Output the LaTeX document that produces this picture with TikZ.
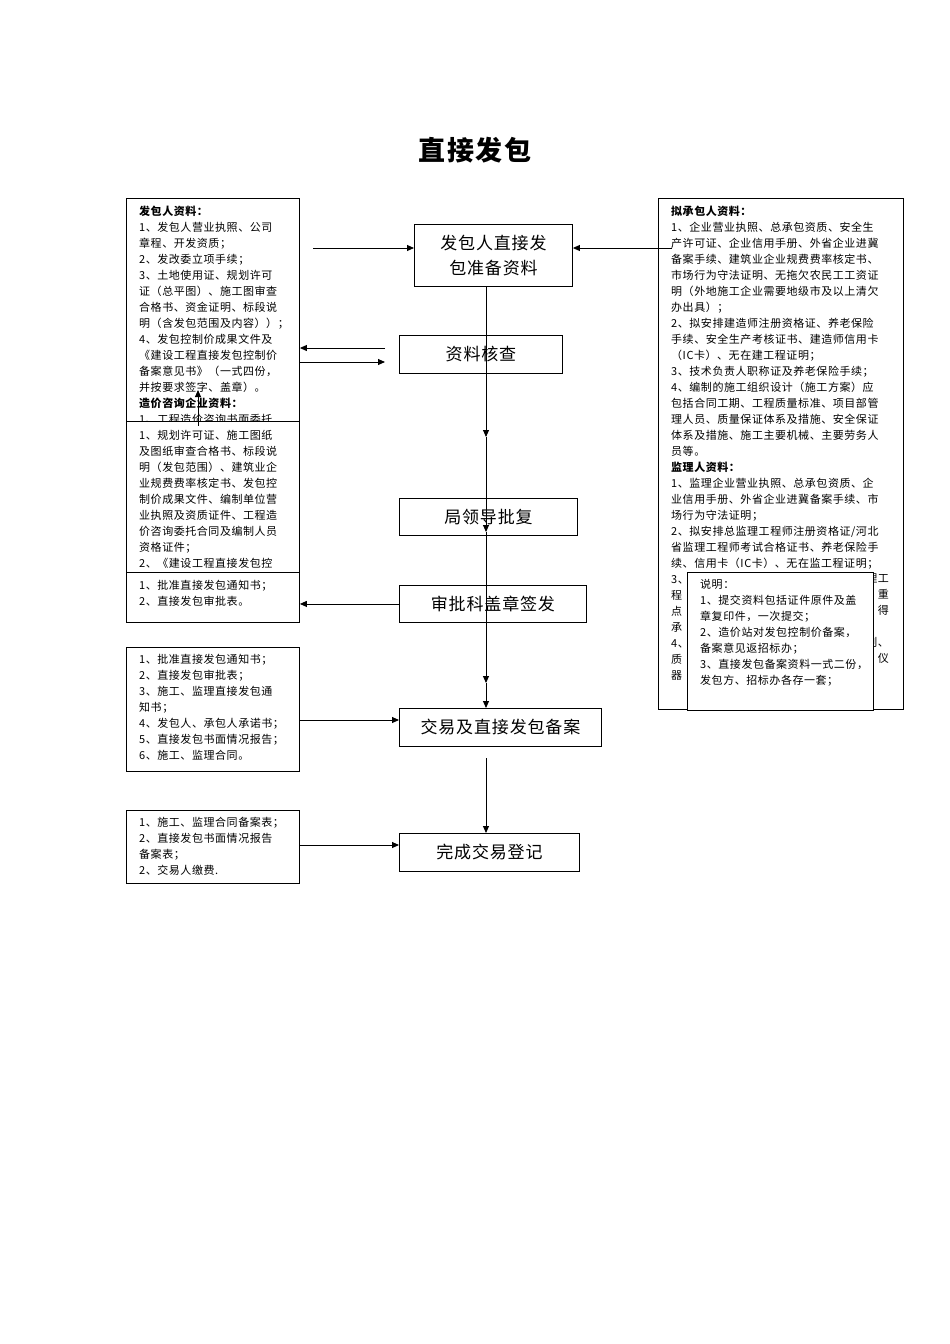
\documentclass[tikz,border=0pt]{standalone}
\usepackage{fontspec}
\setmainfont{Noto Sans CJK SC}[LetterSpace=5]
\usetikzlibrary{arrows.meta}
\tikzset{
 box/.style={draw,line width=0.9pt,fill=white},
 txt/.style={anchor=north west,inner sep=0pt,align=left,font=\fontsize{11}{16}\selectfont},
 mid/.style={draw,line width=0.9pt,fill=white,inner sep=0pt,font=\fontsize{17}{25}\selectfont,align=center},
 arr/.style={line width=0.9pt,-{Triangle[length=7pt,width=6pt]}},
 ln/.style={line width=0.9pt}
}
\begin{document}
\begin{tikzpicture}[x=1pt,y=-1pt]
\useasboundingbox (0,0) rectangle (950,1344);
\node[font=\fontsize{27}{30}\selectfont\bfseries] (title) at (475,150) {直接发包};
% left box 1
\node[box,minimum width=0pt,inner sep=0pt,anchor=north west,minimum width=173pt,minimum height=227pt] (L1) at (126,198) {};
\node[txt] (L1t) at (139,206) {\textbf{发包人资料：}\\1、发包人营业执照、公司\\章程、开发资质；\\2、发改委立项手续；\\3、土地使用证、规划许可\\证（总平图）、施工图审查\\合格书、资金证明、标段说\\明（含发包范围及内容））；\\4、发包控制价成果文件及\\《建设工程直接发包控制价\\备案意见书》（一式四份，\\并按要求签字、盖章）。\\\textbf{造价咨询企业资料：}\\1、工程造价咨询书面委托};
\node[box,inner sep=0pt,anchor=north west,minimum width=173pt,minimum height=151pt] (L2) at (126,421) {};
\node[txt] (L2t) at (139,430) {1、规划许可证、施工图纸\\及图纸审查合格书、标段说\\明（发包范围）、建筑业企\\业规费费率核定书、发包控\\制价成果文件、编制单位营\\业执照及资质证件、工程造\\价咨询委托合同及编制人员\\资格证件；\\2、《建设工程直接发包控};
\node[box,inner sep=0pt,anchor=north west,minimum width=173pt,minimum height=50pt] (L3) at (126,572) {};
\node[txt] (L3t) at (139,580) {1、批准直接发包通知书；\\2、直接发包审批表。};
\node[box,inner sep=0pt,anchor=north west,minimum width=173pt,minimum height=124pt] (L4) at (126,647) {};
\node[txt] (L4t) at (139,654) {1、批准直接发包通知书；\\2、直接发包审批表；\\3、施工、监理直接发包通\\知书；\\4、发包人、承包人承诺书；\\5、直接发包书面情况报告；\\6、施工、监理合同。};
\node[box,inner sep=0pt,anchor=north west,minimum width=173pt,minimum height=73pt] (L5) at (126,810) {};
\node[txt] (L5t) at (139,817) {1、施工、监理合同备案表；\\2、直接发包书面情况报告\\备案表；\\2、交易人缴费.};
% right box
\node[box,inner sep=0pt,anchor=north west,minimum width=245pt,minimum height=511pt] (R) at (658,198) {};
\node[txt] (Rt) at (671,206) {\textbf{拟承包人资料：}\\1、企业营业执照、总承包资质、安全生\\产许可证、企业信用手册、外省企业进冀\\备案手续、建筑业企业规费费率核定书、\\市场行为守法证明、无拖欠农民工工资证\\明（外地施工企业需要地级市及以上清欠\\办出具）；\\2、拟安排建造师注册资格证、养老保险\\手续、安全生产考核证书、建造师信用卡\\（IC卡）、无在建工程证明；\\3、技术负责人职称证及养老保险手续；\\4、编制的施工组织设计（施工方案）应\\包括合同工期、工程质量标准、项目部管\\理人员、质量保证体系及措施、安全保证\\体系及措施、施工主要机械、主要劳务人\\员等。\\\textbf{监理人资料：}\\1、监理企业营业执照、总承包资质、企\\业信用手册、外省企业进冀备案手续、市\\场行为守法证明；\\2、拟安排总监理工程师注册资格证/河北\\省监理工程师考试合格证书、养老保险手\\续、信用卡（IC卡）、无在监工程证明；\\3、\\程\\点\\承\\4、\\质\\器};
\node[txt,anchor=north east,align=right] (Rf) at (889,574) {理工\\重\\得\\\\划、\\仪};
\node[box,inner sep=0pt,anchor=north west,minimum width=186pt,minimum height=138pt] (N) at (687,572) {};
\node[txt] (Nt) at (700,579) {说明：\\1、提交资料包括证件原件及盖\\章复印件，一次提交；\\2、造价站对发包控制价备案，\\备案意见返招标办；\\3、直接发包备案资料一式二份，\\发包方、招标办各存一套；};
% centre boxes
\node[mid,anchor=north west,minimum width=158pt,minimum height=62pt] (B1) at (414,224) {发包人直接发\\包准备资料};
\node[mid,anchor=north west,minimum width=163pt,minimum height=38pt] (B2) at (399,335) {资料核查};
\node[mid,anchor=north west,minimum width=178pt,minimum height=37pt] (B3) at (399,498) {局领导批复};
\node[mid,anchor=north west,minimum width=187pt,minimum height=37pt] (B4) at (399,585) {审批科盖章签发};
\node[mid,anchor=north west,minimum width=202pt,minimum height=38pt] (B5) at (399,708) {交易及直接发包备案};
\node[mid,anchor=north west,minimum width=180pt,minimum height=38pt] (B6) at (399,833) {完成交易登记};
% connectors
\coordinate (v1) at (486,437);
\coordinate (v2) at (486,532);
\coordinate (v3) at (486,683);
\coordinate (v4) at (486,758);
\draw[arr] (B1.south -| v1) -- (v1);
\draw[arr] (v1) -- (v2);
\draw[arr] (v2) -- (v3);
\draw[arr] (v3) -- (B5.north -| v3);
\draw[arr] (v4) -- (B6.north -| v4);
\coordinate (lin) at (313,248);
\draw[arr] (lin) -- (B1.west |- lin);
\coordinate (rin) at (672,248);
\draw[arr] (rin) -- (B1.east |- rin);
\coordinate (c1) at (385,348);
\draw[arr] (c1) -- (L1.east |- c1);
\coordinate (c2) at (385,362);
\draw[arr] (L1.east |- c2) -- (c2);
\draw[arr] (B4.west) -- (L3.east |- B4.west);
\coordinate (up) at (198,390);
\draw[arr] (L1.south -| up) -- (up);
\draw[arr] (L4.east |- 0,720) -- (B5.west |- 0,720);
\draw[arr] (L5.east |- 0,845) -- (B6.west |- 0,845);
\end{tikzpicture}
\end{document}
